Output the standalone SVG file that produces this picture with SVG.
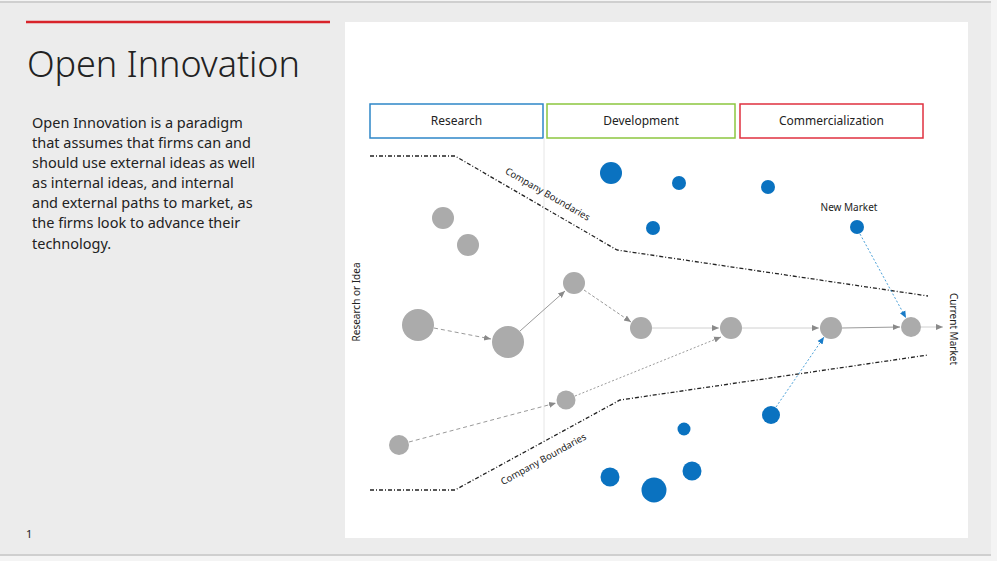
<svg xmlns="http://www.w3.org/2000/svg" width="997" height="561" viewBox="0 0 997 561">
<style>
text{font-family:"Noto Sans","Open Sans","Liberation Sans",sans-serif;fill:#222}
.body{font-size:14.5px}
.phase{font-size:12px;text-anchor:middle}
.small{font-size:10px}
.g{fill:#ababab}
.b{fill:#0a72c0}
.bound{fill:none;stroke:#222;stroke-width:1.3;stroke-dasharray:4 2 1 2}
.c{fill:none;stroke:#9a9a9a;stroke-width:1}
.cl{fill:none;stroke:#d0d0d0;stroke-width:1}
.cb{fill:none;stroke:#4aa0d8;stroke-width:1;stroke-dasharray:2 2}
</style>
<defs>
<marker id="ag" markerWidth="8" markerHeight="8" refX="7" refY="4" orient="auto" markerUnits="userSpaceOnUse"><path d="M0,1 L7,4 L0,7 z" fill="#8a8a8a"/></marker>
<marker id="ab" markerWidth="8" markerHeight="8" refX="7" refY="4" orient="auto" markerUnits="userSpaceOnUse"><path d="M0,1 L7,4 L0,7 z" fill="#1a7cc8"/></marker>
</defs>
<rect x="0" y="0" width="997" height="561" fill="#f4f4f4"/>
<rect x="0" y="3" width="991" height="551" fill="#ececec"/>
<line x1="0" y1="2" x2="991" y2="2" stroke="#cfcfcf" stroke-width="2"/>
<line x1="0" y1="555" x2="991" y2="555" stroke="#cfcfcf" stroke-width="2"/>
<rect x="345" y="22" width="623" height="516" fill="#ffffff"/>
<line x1="26" y1="22" x2="330" y2="22" stroke="#d8232a" stroke-width="2.5"/>
<text x="27" y="77" font-size="36" font-weight="300" style="font-size:36px" textLength="273">Open Innovation</text>
<g class="body">
<text x="32" y="128">Open Innovation is a paradigm</text>
<text x="32" y="148">that assumes that firms can and</text>
<text x="32" y="168">should use external ideas as well</text>
<text x="32" y="188">as internal ideas, and internal</text>
<text x="32" y="208">and external paths to market, as</text>
<text x="32" y="228">the firms look to advance their</text>
<text x="32" y="249">technology.</text>
</g>
<text x="26" y="538" style="font-size:11px">1</text>

<g id="phase-research"><rect x="370" y="104" width="173" height="34" fill="#fff" stroke="#2e86c8" stroke-width="1.5"/><text class="phase" x="456.5" y="125">Research</text></g>
<g id="phase-development"><rect x="547" y="104" width="188" height="34" fill="#fff" stroke="#8cc63f" stroke-width="1.5"/><text class="phase" x="641" y="125">Development</text></g>
<g id="phase-commercialization"><rect x="740" y="104" width="183" height="34" fill="#fff" stroke="#e0303f" stroke-width="1.5"/><text class="phase" x="831.5" y="125">Commercialization</text></g>

<line x1="544" y1="138" x2="544" y2="440" stroke="#e6e6e6" stroke-width="1"/>

<g id="boundaries">
<polyline class="bound" points="370,156 455,156 617,250 928,296"/>
<polyline class="bound" points="370,490 455,490 620,400 928,355"/>
<text class="small" transform="translate(546,197) rotate(30)" text-anchor="middle" style="font-size:9.5px">Company Boundaries</text>
<text class="small" transform="translate(545,462) rotate(-29)" text-anchor="middle" style="font-size:9.5px">Company Boundaries</text>
</g>

<text class="small" transform="translate(360,302) rotate(-90)" text-anchor="middle">Research or Idea</text>
<text class="small" transform="translate(950,329) rotate(90)" text-anchor="middle">Current Market</text>
<text class="small" x="849" y="211" text-anchor="middle">New Market</text>

<g id="connectors">
<line class="c" x1="434" y1="328" x2="491" y2="339" stroke-dasharray="4 3" marker-end="url(#ag)"/>
<line class="c" x1="520" y1="331" x2="565" y2="291" marker-end="url(#ag)"/>
<line class="c" x1="584" y1="290" x2="631" y2="322" stroke-dasharray="3 2" marker-end="url(#ag)"/>
<line class="cl" x1="652" y1="328" x2="719" y2="328" marker-end="url(#ag)"/>
<line class="cl" x1="742" y1="328" x2="819" y2="328" marker-end="url(#ag)"/>
<line class="c" x1="842" y1="328" x2="900" y2="327" stroke="#808080" marker-end="url(#ag)"/>
<line class="cl" x1="921" y1="327" x2="943" y2="327" marker-end="url(#ag)"/>
<line class="c" x1="409" y1="442" x2="556" y2="403" stroke-dasharray="4 3" marker-end="url(#ag)"/>
<line class="c" x1="575" y1="396" x2="721" y2="337" stroke-dasharray="2 2" marker-end="url(#ag)"/>
<line class="cb" x1="860" y1="234" x2="906" y2="318" marker-end="url(#ab)"/>
<line class="cb" x1="776" y1="407" x2="824" y2="337" marker-end="url(#ab)"/>
</g>

<g id="n1"><circle class="g" cx="443" cy="218" r="11"/></g>
<g id="n2"><circle class="g" cx="468" cy="245" r="11"/></g>
<g id="n3"><circle class="g" cx="418" cy="325" r="16"/></g>
<g id="n4"><circle class="g" cx="508" cy="342" r="16"/></g>
<g id="n5"><circle class="g" cx="574" cy="283" r="11"/></g>
<g id="n6"><circle class="g" cx="641" cy="328" r="11"/></g>
<g id="n7"><circle class="g" cx="731" cy="328" r="11"/></g>
<g id="n8"><circle class="g" cx="831" cy="328" r="11"/></g>
<g id="n9"><circle class="g" cx="911" cy="327" r="10"/></g>
<g id="n10"><circle class="g" cx="566" cy="400" r="9.5"/></g>
<g id="n11"><circle class="g" cx="399" cy="445" r="10"/></g>

<g id="b1"><circle class="b" cx="611" cy="173" r="11"/></g>
<g id="b2"><circle class="b" cx="679" cy="183" r="7"/></g>
<g id="b3"><circle class="b" cx="653" cy="228" r="7"/></g>
<g id="b4"><circle class="b" cx="768" cy="187" r="7"/></g>
<g id="b5"><circle class="b" cx="857" cy="227" r="7"/></g>
<g id="b6"><circle class="b" cx="771" cy="415" r="9"/></g>
<g id="b7"><circle class="b" cx="684" cy="429" r="6.5"/></g>
<g id="b8"><circle class="b" cx="610" cy="477" r="9.5"/></g>
<g id="b9"><circle class="b" cx="692" cy="471" r="9.5"/></g>
<g id="b10"><circle class="b" cx="654" cy="490" r="12.5"/></g>
</svg>
